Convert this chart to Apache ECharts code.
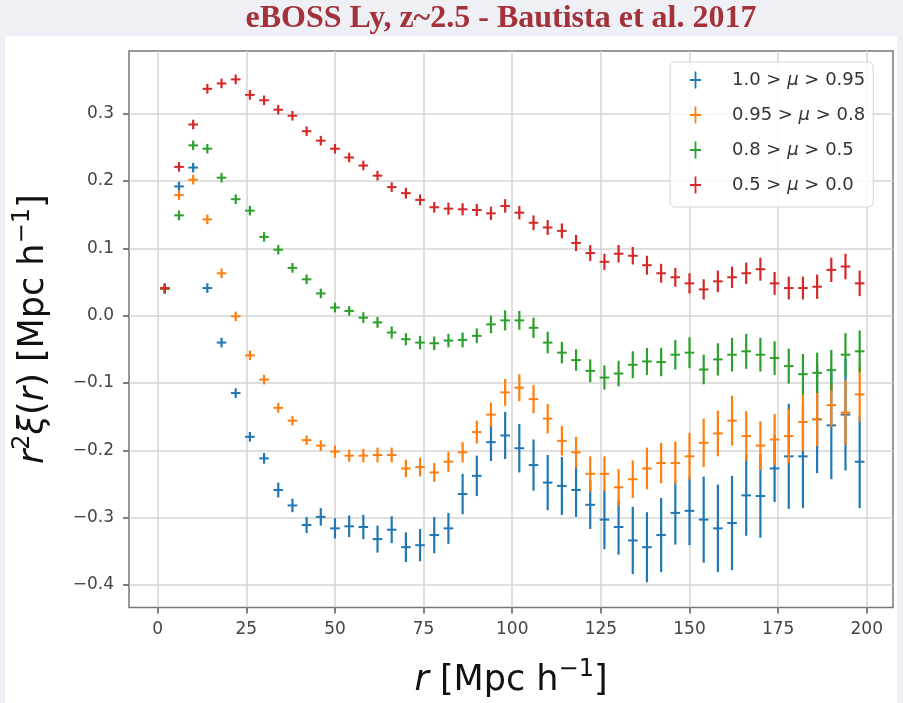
<!DOCTYPE html>
<html>
<head>
<meta charset="utf-8">
<script src="https://cdn.jsdelivr.net/npm/echarts@6/dist/echarts.min.js"></script>
<style>
  html, body { margin: 0; padding: 0; background: #eef0f5; }
  #chart { width: 903px; height: 703px; }
</style>
</head>
<body>
<div id="chart"></div>
<script>
// Bin centres of the separation r [Mpc/h]
const rBins = [2, 6, 10, 14, 18, 22, 26, 30, 34, 38, 42, 46, 50, 54, 58, 62, 66, 70, 74, 78,
  82, 86, 90, 94, 98, 102, 106, 110, 114, 118, 122, 126, 130, 134, 138, 142, 146, 150, 154, 158,
  162, 166, 170, 174, 178, 182, 186, 190, 194, 198];

// Wedge labels
const wedgeNames = ['1.0 > μ > 0.95', '0.95 > μ > 0.8', '0.8 > μ > 0.5', '0.5 > μ > 0.0'];

// r^2 xi(r) per wedge and its 1-sigma error
const xiMu1 = [0.040, 0.192, 0.220, 0.041, -0.040, -0.115, -0.180, -0.212, -0.259, -0.282,
  -0.311, -0.299, -0.316, -0.313, -0.314, -0.332, -0.318, -0.344, -0.341, -0.326,
  -0.316, -0.265, -0.238, -0.188, -0.178, -0.197, -0.222, -0.248, -0.253, -0.259,
  -0.281, -0.303, -0.314, -0.334, -0.344, -0.326, -0.293, -0.290, -0.303, -0.316,
  -0.308, -0.267, -0.268, -0.227, -0.209, -0.209, -0.154, -0.163, -0.147, -0.217];
const errMu1 = [0.004, 0.005, 0.005, 0.005, 0.006, 0.006, 0.007, 0.008, 0.011, 0.010,
  0.012, 0.013, 0.015, 0.016, 0.018, 0.020, 0.020, 0.022, 0.024, 0.027,
  0.023, 0.030, 0.030, 0.028, 0.035, 0.036, 0.038, 0.041, 0.043, 0.040,
  0.036, 0.044, 0.041, 0.050, 0.052, 0.055, 0.047, 0.051, 0.064, 0.065,
  0.070, 0.060, 0.062, 0.050, 0.078, 0.077, 0.080, 0.080, 0.083, 0.069];

const xiMu2 = [0.040, 0.179, 0.202, 0.143, 0.063, -0.001, -0.059, -0.095, -0.137, -0.156,
  -0.185, -0.193, -0.202, -0.208, -0.208, -0.207, -0.207, -0.227, -0.225, -0.233,
  -0.217, -0.203, -0.173, -0.147, -0.114, -0.107, -0.124, -0.153, -0.186, -0.203,
  -0.235, -0.235, -0.255, -0.243, -0.227, -0.219, -0.219, -0.209, -0.189, -0.175,
  -0.156, -0.179, -0.193, -0.184, -0.179, -0.158, -0.154, -0.133, -0.144, -0.117];
const errMu2 = [0.004, 0.004, 0.004, 0.005, 0.005, 0.005, 0.005, 0.006, 0.006, 0.007,
  0.007, 0.008, 0.009, 0.009, 0.010, 0.011, 0.011, 0.013, 0.014, 0.014,
  0.015, 0.015, 0.017, 0.018, 0.020, 0.020, 0.021, 0.022, 0.022, 0.023,
  0.026, 0.026, 0.027, 0.028, 0.031, 0.030, 0.032, 0.035, 0.036, 0.034,
  0.037, 0.037, 0.036, 0.038, 0.040, 0.043, 0.040, 0.032, 0.048, 0.041];

const xiMu3 = [0.040, 0.149, 0.253, 0.248, 0.205, 0.173, 0.156, 0.117, 0.098, 0.071,
  0.054, 0.033, 0.012, 0.007, -0.003, -0.010, -0.025, -0.035, -0.040, -0.041,
  -0.037, -0.036, -0.030, -0.013, -0.007, -0.007, -0.018, -0.040, -0.055, -0.066,
  -0.082, -0.092, -0.086, -0.073, -0.068, -0.069, -0.058, -0.055, -0.080, -0.065,
  -0.058, -0.053, -0.058, -0.063, -0.075, -0.087, -0.085, -0.081, -0.058, -0.053];
const errMu3 = [0.004, 0.004, 0.005, 0.005, 0.005, 0.005, 0.005, 0.005, 0.006, 0.006,
  0.006, 0.006, 0.007, 0.007, 0.008, 0.008, 0.009, 0.009, 0.010, 0.010,
  0.010, 0.011, 0.011, 0.013, 0.015, 0.014, 0.015, 0.016, 0.016, 0.016,
  0.017, 0.018, 0.019, 0.020, 0.020, 0.021, 0.022, 0.023, 0.022, 0.024,
  0.025, 0.026, 0.025, 0.025, 0.026, 0.030, 0.030, 0.030, 0.032, 0.031];

const xiMu4 = [0.041, 0.221, 0.284, 0.337, 0.345, 0.351, 0.328, 0.320, 0.306, 0.297,
  0.274, 0.260, 0.248, 0.235, 0.223, 0.208, 0.191, 0.182, 0.172, 0.161,
  0.159, 0.158, 0.157, 0.152, 0.163, 0.153, 0.138, 0.131, 0.126, 0.108,
  0.093, 0.080, 0.092, 0.089, 0.075, 0.063, 0.057, 0.048, 0.039, 0.051,
  0.057, 0.063, 0.069, 0.048, 0.041, 0.041, 0.043, 0.068, 0.073, 0.048];
const errMu4 = [0.004, 0.004, 0.004, 0.005, 0.005, 0.005, 0.005, 0.005, 0.005, 0.005,
  0.006, 0.006, 0.006, 0.006, 0.007, 0.007, 0.007, 0.008, 0.008, 0.008,
  0.009, 0.009, 0.009, 0.010, 0.010, 0.010, 0.011, 0.011, 0.011, 0.012,
  0.012, 0.012, 0.013, 0.013, 0.014, 0.014, 0.014, 0.015, 0.015, 0.016,
  0.016, 0.016, 0.017, 0.017, 0.017, 0.017, 0.018, 0.018, 0.019, 0.019];

// Axis ticks
const xTicks = [0, 25, 50, 75, 100, 125, 150, 175, 200];
const yTicks = [-0.4, -0.3, -0.2, -0.1, 0.0, 0.1, 0.2, 0.3];

const palette = ['#1f77b4', '#ff7f0e', '#2ca02c', '#d62728'];
const wedgeValues = [xiMu1, xiMu2, xiMu3, xiMu4];
const wedgeErrors = [errMu1, errMu2, errMu3, errMu4];

// '+' marker with a vertical error bar, positioned through the axes
function errorBarRenderer(color) {
  return function (params, api) {
    const x = api.value(0), y = api.value(1), e = api.value(2);
    const c = api.coord([x, y]);
    const hi = api.coord([x, y + e]);
    const lo = api.coord([x, y - e]);
    const arm = 4.8;
    return {
      type: 'group',
      children: [
        { type: 'line',
          shape: { x1: c[0], y1: Math.min(hi[1], c[1] - arm), x2: c[0], y2: Math.max(lo[1], c[1] + arm) },
          style: { stroke: color, lineWidth: 2.2 } },
        { type: 'line',
          shape: { x1: c[0] - arm, y1: c[1], x2: c[0] + arm, y2: c[1] },
          style: { stroke: color, lineWidth: 2 } }
      ]
    };
  };
}

const series = wedgeNames.map((name, k) => ({
  type: 'custom',
  name: name,
  renderItem: errorBarRenderer(palette[k]),
  itemStyle: { color: palette[k] },
  encode: { x: 0, y: 1 },
  data: rBins.map((r, i) => [r, wedgeValues[k][i], wedgeErrors[k][i]])
}));

const plusIcon = 'path://M4.6,0H6.4V7.6H11V9.4H6.4V17H4.6V9.4H0V7.6H4.6Z';
const tickFont = { fontFamily: 'DejaVu Sans', fontSize: 17, color: '#444' };
const nameRich = {
  n: { fontFamily: 'DejaVu Sans', fontSize: 35, color: '#111', lineHeight: 46 },
  i: { fontFamily: 'DejaVu Sans', fontStyle: 'italic', fontSize: 35, color: '#111', lineHeight: 46 },
  s: { fontFamily: 'DejaVu Sans', fontSize: 24, color: '#111', lineHeight: 24, verticalAlign: 'top' }
};

const chart = echarts.init(document.getElementById('chart'), null, { renderer: 'canvas' });
chart.setOption({
  animation: false,
  backgroundColor: '#eef0f5',
  color: palette,
  graphic: {
    elements: [
      { type: 'rect', z: -100, shape: { x: 5, y: 36, width: 892, height: 667 },
        style: { fill: '#ffffff' } },
      { type: 'text', x: 501, y: 19,
        style: { text: 'eBOSS Ly, z~2.5 - Bautista et al. 2017', textAlign: 'center', textVerticalAlign: 'middle',
                 font: 'bold 32px "Liberation Serif", serif', fill: '#a3323a' } }
    ]
  },
  grid: { left: 129, right: 10, top: 51, bottom: 93, show: true, borderColor: '#777', borderWidth: 1.5,
          backgroundColor: 'transparent' },
  legend: {
    orient: 'vertical', left: 670, top: 62,
    itemWidth: 11, itemHeight: 17, itemGap: 15,
    icon: plusIcon,
    padding: [8, 8, 12, 20],
    backgroundColor: 'rgba(255,255,255,0.85)',
    borderColor: '#d6d6d6', borderWidth: 1, borderRadius: 5,
    data: wedgeNames,
    formatter: n => n.replace('μ', '{m|μ}'),
    textStyle: {
      fontFamily: 'DejaVu Sans', fontSize: 18, color: '#333', lineHeight: 20, padding: [0, 0, 0, 26],
      rich: { m: { fontFamily: 'DejaVu Sans', fontStyle: 'italic', fontSize: 18, color: '#333' } }
    }
  },
  xAxis: {
    type: 'value', min: -8.1, max: 207.4,
    axisLine: { show: false, onZero: false },
    axisTick: { show: true, length: 6, customValues: xTicks, lineStyle: { color: '#555', width: 1.5 } },
    axisLabel: Object.assign({ customValues: xTicks, margin: 14, formatter: v => String(v) }, tickFont),
    splitLine: { show: true, lineStyle: { color: '#d4d4d4', width: 1.5 } },
    name: '{i|r}{n| [Mpc h}{s|−1}{n|]}',
    nameLocation: 'middle', nameGap: 50,
    nameTextStyle: { rich: nameRich }
  },
  yAxis: {
    type: 'value', min: -0.4336, max: 0.3932,
    axisLine: { show: false, onZero: false },
    axisTick: { show: true, length: 6, customValues: yTicks, lineStyle: { color: '#555', width: 1.5 } },
    axisLabel: Object.assign({ customValues: yTicks, margin: 15,
      formatter: v => (v < -1e-9 ? '\u2212' : '') + Math.abs(v).toFixed(1) }, tickFont),
    splitLine: { show: true, lineStyle: { color: '#d4d4d4', width: 1.5 } },
    name: '{i|r}{s|2}{i|ξ}{n|(}{i|r}{n|) [Mpc h}{s|−1}{n|]}',
    nameLocation: 'middle', nameGap: 72,
    nameTextStyle: { rich: nameRich }
  },
  series: series
});
</script>
</body>
</html>
